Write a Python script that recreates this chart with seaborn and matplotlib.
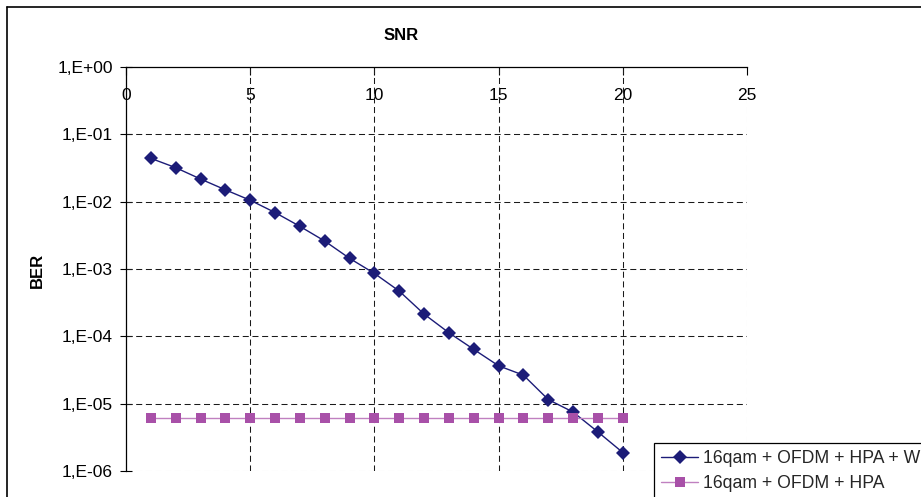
import matplotlib
matplotlib.use("Agg")
import matplotlib.pyplot as plt
from matplotlib.lines import Line2D
from matplotlib.patches import Rectangle
import numpy as np
import pandas as pd
import seaborn as sns

# SNR sweep (dB) and measured bit error rates
snr = [1, 2, 3, 4, 5, 6, 7, 8, 9, 10, 11, 12, 13, 14, 15, 16, 17, 18, 19, 20]
ber_hpa_w = [4.4e-2, 3.2e-2, 2.17e-2, 1.5e-2, 1.05e-2, 6.9e-3, 4.3e-3, 2.6e-3,
             1.44e-3, 8.6e-4, 4.7e-4, 2.14e-4, 1.13e-4, 6.4e-5, 3.65e-5,
             2.65e-5, 1.15e-5, 7.5e-6, 3.8e-6, 1.88e-6]
ber_hpa = [6.1e-6, 6.1e-6, 6.1e-6, 6.1e-6, 6.1e-6, 6.1e-6, 6.1e-6, 6.1e-6,
           6.1e-6, 6.1e-6, 6.1e-6, 6.1e-6, 6.1e-6, 6.1e-6, 6.1e-6, 6.1e-6,
           6.1e-6, 6.1e-6, 6.1e-6, 6.1e-6]
series_names = ["16qam + OFDM + HPA + W", "16qam + OFDM + HPA"]

x_ticks = [0, 5, 10, 15, 20, 25]
y_ticks = [1e-6, 1e-5, 1e-4, 1e-3, 1e-2, 1e-1, 1e0]
y_tick_labels = ["1,E-06", "1,E-05", "1,E-04", "1,E-03", "1,E-02", "1,E-01", "1,E+00"]

df = pd.DataFrame({
    "SNR": snr + snr,
    "BER": ber_hpa_w + ber_hpa,
    "curve": [series_names[0]] * len(snr) + [series_names[1]] * len(snr),
})

sns.set_theme(style="white")
plt.rcParams["font.family"] = ["Liberation Sans", "DejaVu Sans"]

W, H = 921, 497
fig = plt.figure(figsize=(W / 100, H / 100), dpi=100)
ax = fig.add_axes([126 / W, (H - 471) / H, (747 - 126) / W, (471 - 67) / H])

navy = "#1c1c78"
plum = "#a850a8"
plum_line = "#c080c0"
sns.lineplot(data=df, x="SNR", y="BER", hue="curve", style="curve",
             palette={series_names[0]: navy, series_names[1]: plum},
             markers={series_names[0]: "D", series_names[1]: "s"},
             dashes=False, markersize=6.8, markeredgewidth=0, linewidth=1.0,
             ax=ax, legend=False, zorder=5)
# the flat curve: slightly larger squares on a paler line
ax.lines[1].set_markersize(6.5)
ax.lines[1].set_color(plum_line)
ax.lines[1].set_markerfacecolor(plum)

ax.set_yscale("log")
ax.set_xlim(0, 25)
ax.set_ylim(1e-6, 1)
ax.set_xticks(x_ticks)
ax.set_xticklabels([str(v) for v in x_ticks])
ax.set_yticks(y_ticks)
ax.set_yticklabels(y_tick_labels)
ax.minorticks_off()
ax.set_xlabel("")
ax.set_ylabel("")

# dashed grid; the outer edge lines are lighter
dash = (0, (5.8, 3.5))
for v in x_ticks[1:]:
    ax.axvline(v, color="#c0c0c0" if v == 25 else "#1a1a1a", lw=0.75,
               ls=dash, zorder=1)
for v in y_ticks[:-1]:
    ax.axhline(v, color="#c0c0c0" if v == 1e-6 else "#1a1a1a", lw=0.75,
               ls=dash, zorder=1)

for s in ["bottom", "right"]:
    ax.spines[s].set_visible(False)
for s in ["top", "left"]:
    ax.spines[s].set_color("black")
    ax.spines[s].set_linewidth(0.9)

ax.xaxis.tick_top()
ax.tick_params(axis="x", which="major", top=True, bottom=False, labeltop=True,
               labelbottom=False, direction="in", length=5.5, width=0.8,
               color="black", labelsize=12.5, pad=-26, labelcolor="black")
ax.tick_params(axis="y", which="major", left=True, direction="inout", length=9,
               width=0.8, color="black", labelsize=12.5, pad=5,
               labelcolor="black")

fig.text(401 / W, 1 - 35.5 / H, "SNR", ha="center", va="center",
         fontsize=12, fontweight="bold", color="black")
fig.text(37.5 / W, 1 - 270 / H, "BER", ha="center", va="center",
         rotation=90, fontsize=12, fontweight="bold", color="black")

# outer chart frame
fig.add_artist(Line2D([7 / W, 7 / W], [0, 1 - 7 / H], transform=fig.transFigure,
                      color="black", lw=1.2))
fig.add_artist(Line2D([7 / W, 1], [1 - 7 / H, 1 - 7 / H], transform=fig.transFigure,
                      color="black", lw=1.2))

# legend box running off the lower right corner of the chart
fig.add_artist(Rectangle((654 / W, -0.2), 0.5, 0.2 + (H - 443) / H,
                         transform=fig.transFigure, facecolor="white",
                         edgecolor="black", lw=0.9, zorder=4))

handles = [
    Line2D([], [], color=navy, marker="D", markersize=6.8, markeredgewidth=0, lw=1.0),
    Line2D([], [], color=plum_line, marker="s", markersize=6.5,
           markerfacecolor=plum, markeredgewidth=0, lw=1.0),
]
leg = fig.legend(handles, series_names, loc="upper left",
                 bbox_to_anchor=(654 / W, 1 - 443 / H), bbox_transform=fig.transFigure,
                 fontsize=12.7, frameon=False, borderpad=0.4, borderaxespad=0,
                 handlelength=2.1, handletextpad=0.28, labelspacing=0.45)
leg.set_zorder(6)

fig.savefig("out.png", dpi=100)
